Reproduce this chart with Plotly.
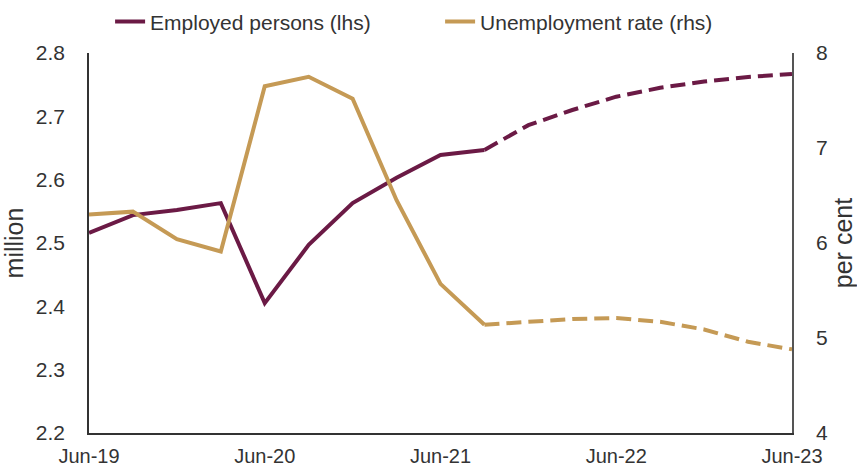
import plotly.graph_objects as go

quarters = ["Jun-19", "Sep-19", "Dec-19", "Mar-20", "Jun-20", "Sep-20", "Dec-20", "Mar-21",
            "Jun-21", "Sep-21", "Dec-21", "Mar-22", "Jun-22", "Sep-22", "Dec-22", "Mar-23", "Jun-23"]
employed = [2.516, 2.544, 2.552, 2.563, 2.405, 2.497, 2.563, 2.603,
            2.639, 2.647, 2.686, 2.710, 2.731, 2.745, 2.755, 2.762, 2.767]
unemployment = [6.30, 6.33, 6.04, 5.91, 7.65, 7.75, 7.52, 6.45,
                5.57, 5.14, 5.17, 5.20, 5.21, 5.17, 5.09, 4.96, 4.88]
last_actual = 9  # Sep-21: forecasts start here
tick_labels = ["Jun-19", "Jun-20", "Jun-21", "Jun-22", "Jun-23"]

PURPLE = "#6b1a45"
GOLD = "#c59a55"
DASH = "15px,7px"

x = list(range(len(quarters)))


def split(values):
    actual = [v if i <= last_actual else None for i, v in enumerate(values)]
    forecast = [v if i >= last_actual else None for i, v in enumerate(values)]
    return actual, forecast


emp_act, emp_fc = split(employed)
ur_act, ur_fc = split(unemployment)

fig = go.Figure()
fig.add_trace(go.Scatter(x=x, y=emp_act, mode="lines", name="Employed persons (lhs)",
                         line=dict(color=PURPLE, width=4), yaxis="y"))
fig.add_trace(go.Scatter(x=x, y=ur_act, mode="lines", name="Unemployment rate (rhs)",
                         line=dict(color=GOLD, width=4), yaxis="y2"))
fig.add_trace(go.Scatter(x=x, y=emp_fc, mode="lines", showlegend=False,
                         line=dict(color=PURPLE, width=4, dash=DASH), yaxis="y"))
fig.add_trace(go.Scatter(x=x, y=ur_fc, mode="lines", showlegend=False,
                         line=dict(color=GOLD, width=4, dash=DASH), yaxis="y2"))

font = dict(family="Liberation Sans, Arial, sans-serif", size=21, color="#333333")

fig.update_layout(
    width=857, height=471,
    margin=dict(l=89, r=65, t=53, b=38, autoexpand=False),
    paper_bgcolor="white", plot_bgcolor="white",
    font=font,
    showlegend=True,
    legend=dict(orientation="h", x=0.03, xanchor="left", y=1.082, yanchor="middle",
                entrywidth=285, entrywidthmode="pixels",
                font=dict(size=21, color="#333333"),
                traceorder="normal", bgcolor="rgba(0,0,0,0)"),
    xaxis=dict(range=[0, len(quarters) - 1], tickmode="array",
               tickvals=[quarters.index(t) for t in tick_labels], ticktext=tick_labels,
               tickfont=dict(size=20),
               showgrid=False, zeroline=False, showline=True, linecolor="#333333",
               linewidth=1.5, ticks="", ticklabelstandoff=4, automargin=False),
    yaxis=dict(range=[2.2, 2.8], dtick=0.1, tickformat=".1f", showgrid=False, zeroline=False,
               showline=True, linecolor="#333333", linewidth=1.5, ticks="",
               title=dict(text="million", standoff=6), ticklabelstandoff=18,
               automargin=False),
    yaxis2=dict(range=[4, 8], dtick=1, overlaying="y", side="right", showgrid=False,
                zeroline=False, showline=True, linecolor="#555555", linewidth=1.5, ticks="",
                title=dict(text="per cent", standoff=10), ticklabelstandoff=18,
                automargin=False),
)

fig.write_html("out.html")
